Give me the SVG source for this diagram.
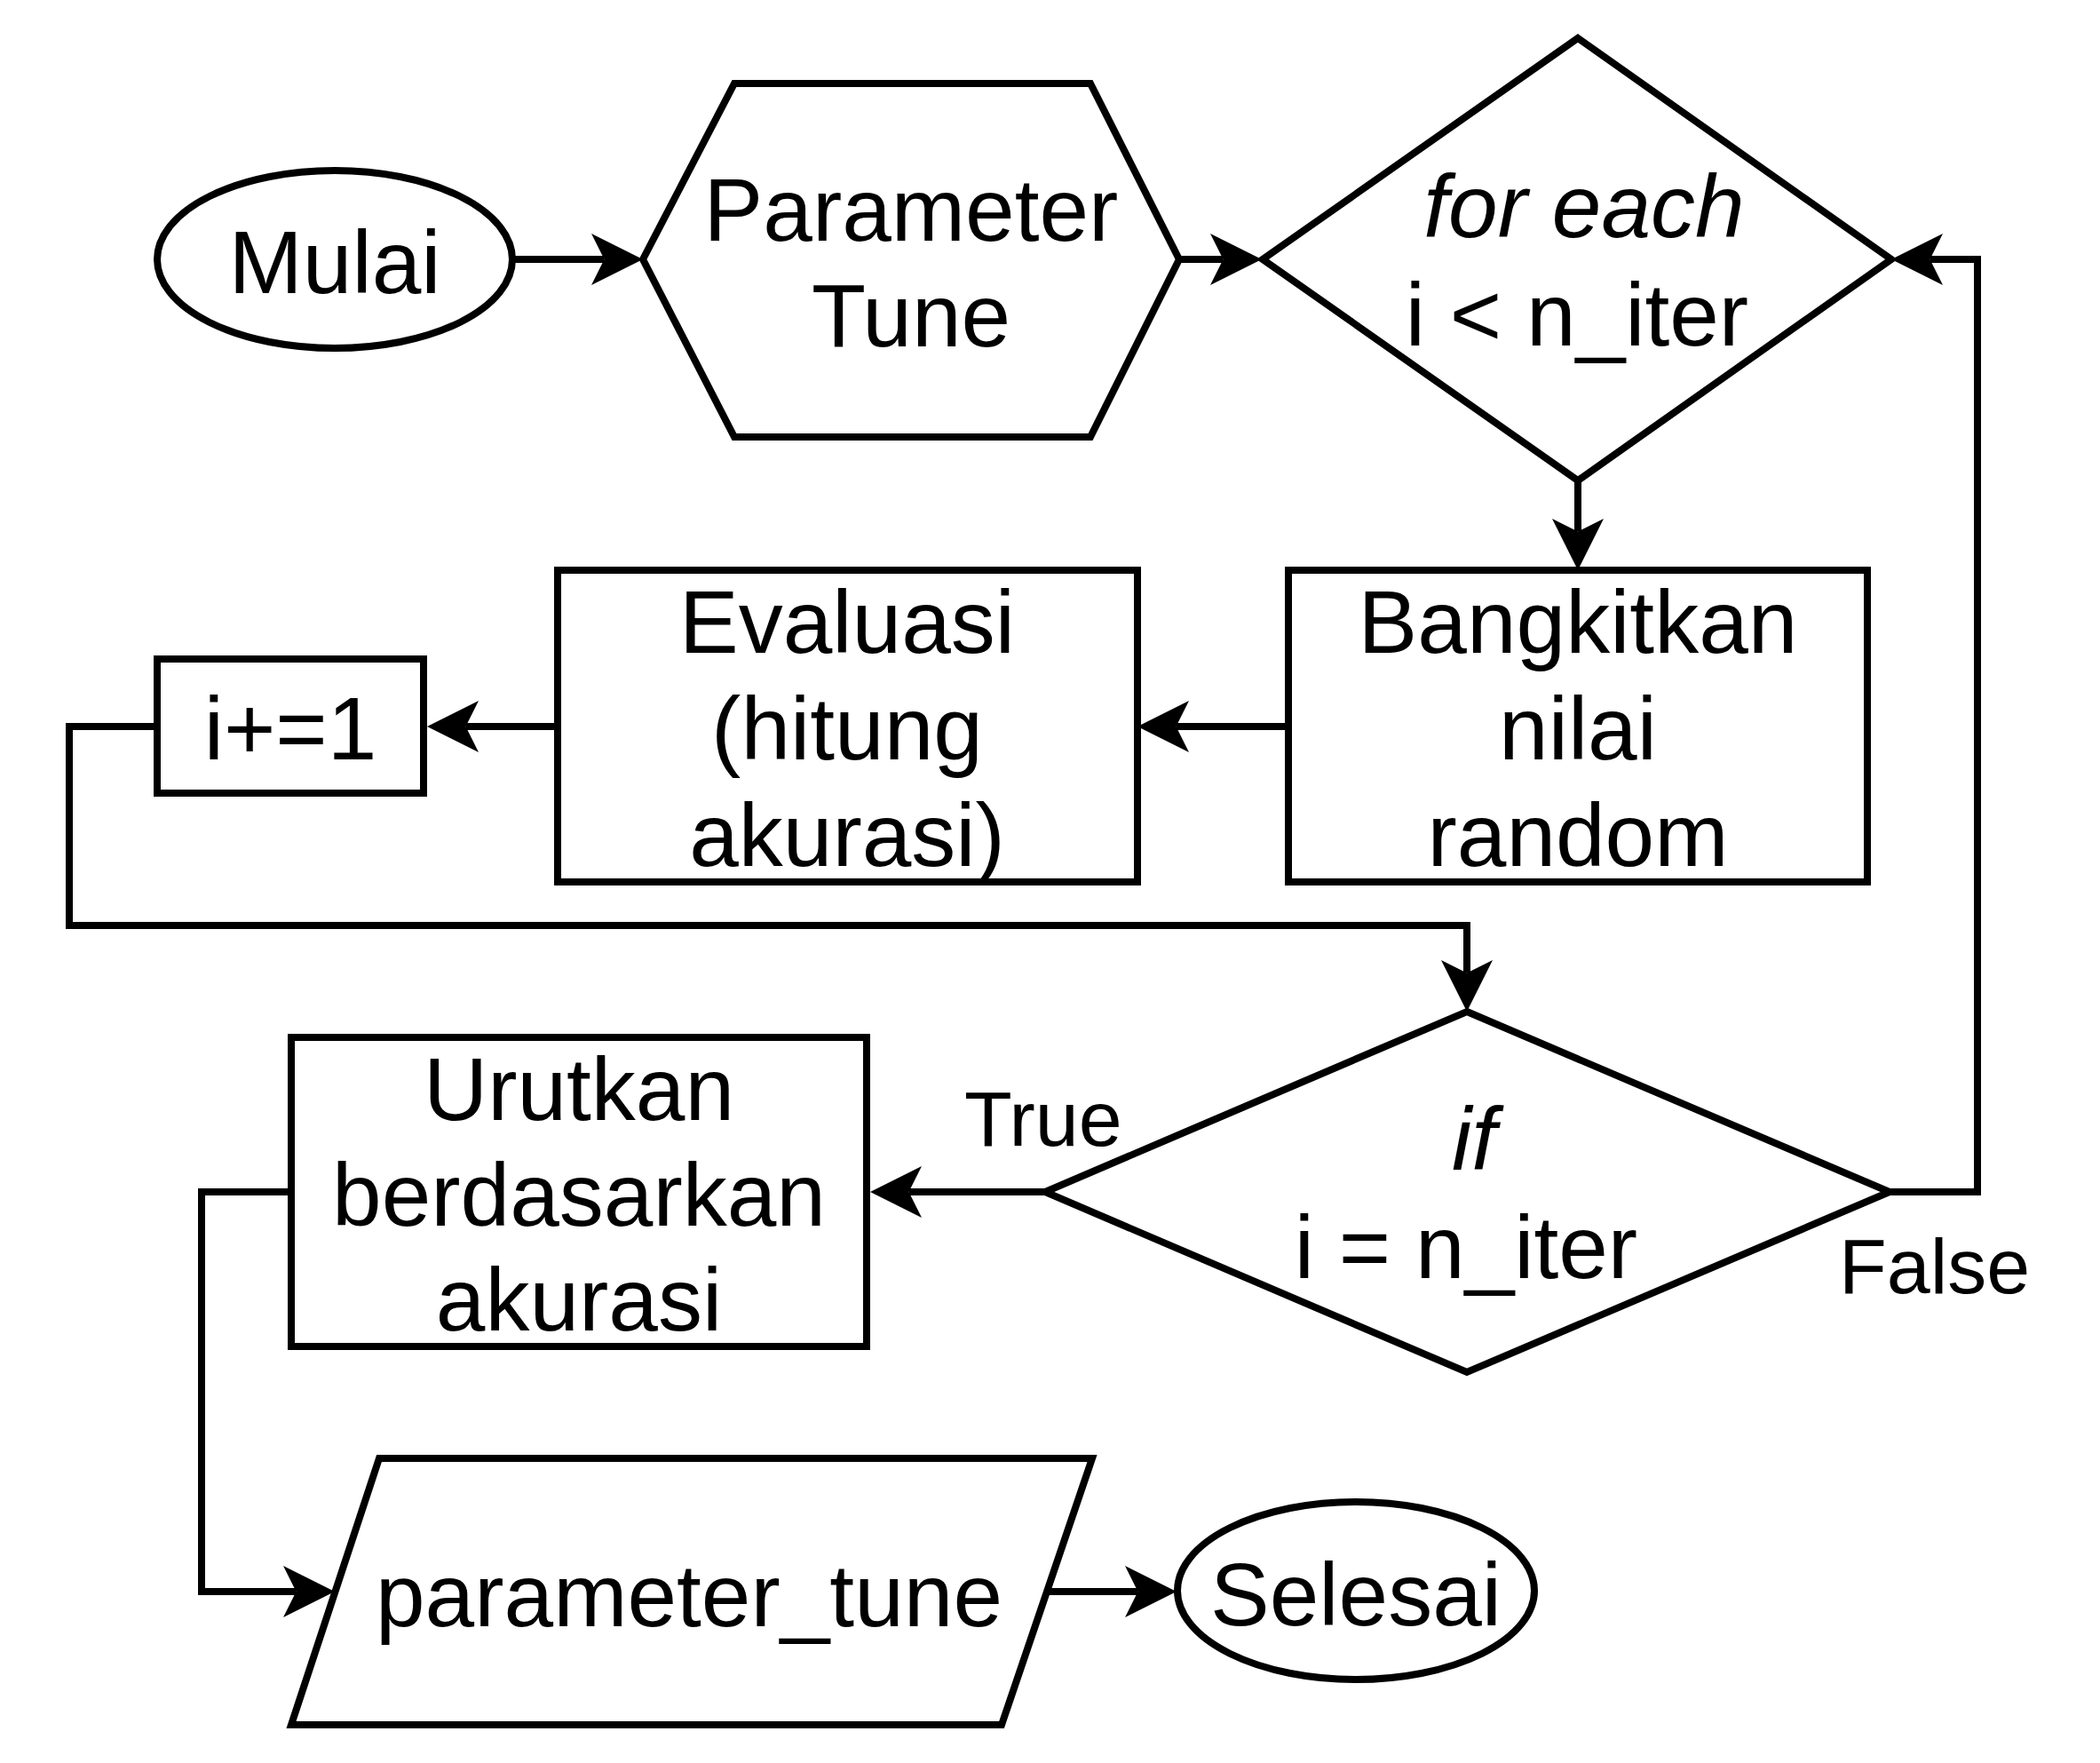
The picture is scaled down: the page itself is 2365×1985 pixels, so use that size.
<svg xmlns="http://www.w3.org/2000/svg" width="2365" height="1985" viewBox="0 0 2365 1985">
<style>
.shape{fill:#ffffff;stroke:#000000;stroke-width:8;stroke-linejoin:miter}
.edge{fill:none;stroke:#000000;stroke-width:8;stroke-linejoin:miter}
.t{font-family:"Liberation Sans",Arial,Helvetica,sans-serif;font-size:100px;fill:#000000;text-anchor:middle}
.i{font-style:italic}
.lbl{font-family:"Liberation Sans",Arial,Helvetica,sans-serif;font-size:88px;fill:#000000}
</style>
<defs>
<marker id="arr" markerUnits="userSpaceOnUse" markerWidth="60" markerHeight="60" viewBox="-60 -30 60 60" refX="-43.5" refY="0" orient="auto">
<path d="M0,0 L-58,-29 L-43.5,0 L-58,29 Z" fill="#000000"/>
</marker>
</defs>
<rect width="2365" height="1985" fill="#ffffff"/>
<g id="connectors">
<path class="edge" d="M577,292 H680.5" marker-end="url(#arr)"/>
<path class="edge" d="M1328,292 H1377.5" marker-end="url(#arr)"/>
<path class="edge" d="M1777,541 V598.5" marker-end="url(#arr)"/>
<path class="edge" d="M1451,818 H1324.5" marker-end="url(#arr)"/>
<path class="edge" d="M628,818 H524.5" marker-end="url(#arr)"/>
<path class="edge" d="M177,818 H78 V1042 H1652 V1095.5" marker-end="url(#arr)"/>
<path class="edge" d="M1177,1342 H1023.5" marker-end="url(#arr)"/>
<path class="edge" d="M2128,1342 H2227 V292 H2173.5" marker-end="url(#arr)"/>
<path class="edge" d="M328,1342 H227 V1792 H333.5" marker-end="url(#arr)"/>
<path class="edge" d="M1180,1792 H1281.5" marker-end="url(#arr)"/>
<text class="lbl" x="1086" y="1290">True</text>
<text class="lbl" x="2071" y="1456">False</text>
</g>
<g id="mulai">
<ellipse class="shape" cx="377" cy="292" rx="200" ry="100"/>
<text class="t" x="377" y="330">Mulai</text>
</g>
<g id="parameter-tune">
<polygon class="shape" points="724,292 827,94 1228,94 1328,292 1228,492 827,492"/>
<text class="t" x="1026" y="271">Parameter</text>
<text class="t" x="1026" y="390">Tune</text>
</g>
<g id="for-each">
<polygon class="shape" points="1777,43 2130,292 1777,541 1422,292"/>
<text class="t i" x="1784" y="267">for each</text>
<text class="t" x="1776" y="389">i &lt; n_iter</text>
</g>
<g id="bangkitkan">
<rect class="shape" x="1451" y="642" width="652" height="351"/>
<text class="t" x="1777" y="735">Bangkitkan</text>
<text class="t" x="1777" y="855">nilai</text>
<text class="t" x="1777" y="975">random</text>
</g>
<g id="evaluasi">
<rect class="shape" x="628" y="642" width="653" height="351"/>
<text class="t" x="954" y="735">Evaluasi</text>
<text class="t" x="954" y="855">(hitung</text>
<text class="t" x="954" y="975">akurasi)</text>
</g>
<g id="increment">
<rect class="shape" x="177" y="742" width="300" height="151"/>
<text class="t" x="327" y="855">i+=1</text>
</g>
<g id="if">
<polygon class="shape" points="1652,1139 2128,1342 1652,1545 1177,1342"/>
<text class="t i" x="1660" y="1317">if</text>
<text class="t" x="1651" y="1439">i = n_iter</text>
</g>
<g id="urutkan">
<rect class="shape" x="328" y="1168" width="648" height="348"/>
<text class="t" x="652" y="1261">Urutkan</text>
<text class="t" x="652" y="1380">berdasarkan</text>
<text class="t" x="652" y="1498">akurasi</text>
</g>
<g id="parameter-tune-out">
<polygon class="shape" points="427,1642 1230,1642 1128,1942 328,1942"/>
<text class="t" x="776" y="1831">parameter_tune</text>
</g>
<g id="selesai">
<ellipse class="shape" cx="1527" cy="1791" rx="201" ry="100"/>
<text class="t" x="1527" y="1830">Selesai</text>
</g>
</svg>
